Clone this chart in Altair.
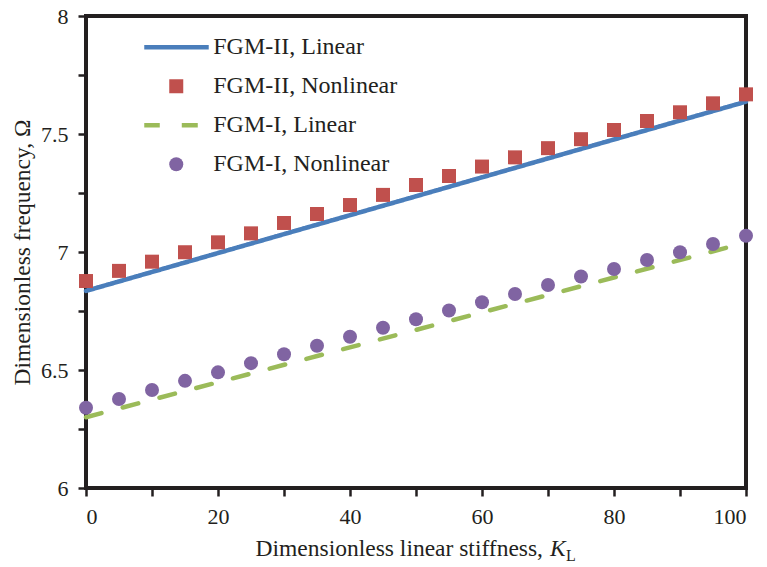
import altair as alt
import pandas as pd

# ---------------- data ----------------
K_POINTS = [0, 5, 10, 15, 20, 25, 30, 35, 40, 45, 50, 55, 60, 65, 70, 75, 80, 85, 90, 95, 100]
FGM2_NONLINEAR = [6.877, 6.920, 6.959, 6.999, 7.041, 7.079, 7.123, 7.161, 7.199, 7.242, 7.284,
                  7.322, 7.362, 7.401, 7.440, 7.478, 7.517, 7.555, 7.592, 7.630, 7.668]
FGM1_NONLINEAR = [6.340, 6.377, 6.415, 6.454, 6.490, 6.529, 6.567, 6.603, 6.641, 6.679, 6.715,
                  6.752, 6.787, 6.822, 6.860, 6.896, 6.928, 6.966, 6.999, 7.034, 7.069]
K_LINE = [0, 100]
FGM2_LINEAR = [6.835, 7.637]
FGM1_LINEAR = [6.300, 7.040]

SERIES = ["FGM-II, Linear", "FGM-II, Nonlinear", "FGM-I, Linear", "FGM-I, Nonlinear"]

X_TICKS = [0, 10, 20, 30, 40, 50, 60, 70, 80, 90, 100]
Y_TICKS = [6, 6.25, 6.5, 6.75, 7, 7.25, 7.5, 7.75, 8]

X_TITLE_MAIN = "Dimensionless linear stiffness,"
X_TITLE_K = "K"
X_TITLE_SUB = "L"
Y_TITLE = "Dimensionless frequency, Ω"

# ---------------- styles ----------------
BLUE = "#4a7ebb"
RED = "#c0504d"
GREEN = "#9bbb59"
PURPLE = "#8064a2"
INK = "#231f20"
FONT = "Liberation Serif"
LINE_PATH = "M-4.64,0H4.64"

lines_df = pd.DataFrame({
    "K": K_LINE * 2,
    "omega": FGM2_LINEAR + FGM1_LINEAR,
    "series": [SERIES[0]] * len(K_LINE) + [SERIES[2]] * len(K_LINE),
})
points_df = pd.DataFrame({
    "K": K_POINTS * 2,
    "omega": FGM2_NONLINEAR + FGM1_NONLINEAR,
    "series": [SERIES[1]] * len(K_POINTS) + [SERIES[3]] * len(K_POINTS),
})

legend_common = dict(
    title=None,
    orient="none",
    legendX=58.25,
    legendY=12.8,
    padding=0,
    labelFont=FONT,
    labelFontSize=24,
    labelColor=INK,
    labelLimit=400,
    labelOffset=25,
    symbolOffset=20,
    symbolSize=196,
    symbolStrokeWidth=4.5,
    symbolFillColor="transparent",
    symbolStrokeColor="transparent",
    clipHeight=37,
    rowPadding=2,
)

x_enc = alt.X(
    "K:Q",
    scale=alt.Scale(domain=[0, 100], nice=False, zero=False),
    axis=alt.Axis(
        values=X_TICKS,
        labelExpr="datum.value % 20 == 0 ? format(datum.value, 'd') : ''",
        title=None,
    ),
)
y_enc = alt.Y(
    "omega:Q",
    scale=alt.Scale(domain=[6, 8], nice=False, zero=False),
    axis=alt.Axis(
        values=Y_TICKS,
        labelExpr="(datum.value * 2) % 1 == 0 ? format(datum.value, '~g') : ''",
        title=Y_TITLE,
        titlePadding=6,
    ),
)

lines = alt.Chart(lines_df).mark_line(strokeWidth=4.5, strokeCap="round").encode(
    x=x_enc,
    y=y_enc,
    stroke=alt.Stroke(
        "series:N",
        scale=alt.Scale(domain=SERIES, range=[BLUE, "transparent", GREEN, "transparent"]),
        legend=alt.Legend(**legend_common),
    ),
    strokeDash=alt.StrokeDash(
        "series:N",
        scale=alt.Scale(domain=SERIES, range=[[1, 0], [1, 0], [16, 22], [1, 0]]),
        legend=alt.Legend(**legend_common),
    ),
    detail="series:N",
)

points = alt.Chart(points_df).mark_point(filled=True, opacity=1, size=196).encode(
    x=x_enc,
    y=y_enc,
    fill=alt.Fill(
        "series:N",
        scale=alt.Scale(domain=SERIES, range=["transparent", RED, "transparent", PURPLE]),
        legend=alt.Legend(**legend_common),
    ),
    shape=alt.Shape(
        "series:N",
        scale=alt.Scale(domain=SERIES, range=[LINE_PATH, "square", LINE_PATH, "circle"]),
        legend=alt.Legend(**legend_common),
    ),
)

title_main = alt.Chart(pd.DataFrame({"t": [X_TITLE_MAIN]})).mark_text(
    font=FONT, fontSize=23.5, color=INK, align="right", baseline="alphabetic"
).encode(x=alt.value(457), y=alt.value(540), text="t:N")

title_k = alt.Chart(pd.DataFrame({"t": [X_TITLE_K]})).mark_text(
    font=FONT, fontSize=23.5, fontStyle="italic", color=INK, align="left", baseline="alphabetic"
).encode(x=alt.value(464), y=alt.value(540), text="t:N")

title_sub = alt.Chart(pd.DataFrame({"t": [X_TITLE_SUB]})).mark_text(
    font=FONT, fontSize=16, color=INK, align="left", baseline="alphabetic"
).encode(x=alt.value(480), y=alt.value(545), text="t:N")

chart = alt.layer(lines, points, title_main, title_k, title_sub).properties(
    width=660,
    height=472,
    autosize=alt.AutoSizeParams(type="none"),
    padding={"left": 86, "top": 16, "right": 21, "bottom": 79},
    background="white",
).configure_view(
    stroke=INK, strokeWidth=4
).configure_axis(
    grid=False,
    domain=False,
    ticks=True,
    tickColor=INK,
    tickWidth=2.5,
    tickSize=8,
    labelFont=FONT,
    labelFontSize=22,
    labelColor=INK,
    labelPadding=10,
    titleFont=FONT,
    titleFontSize=23.5,
    titleFontWeight="normal",
    titleColor=INK,
)

chart.save("out.html", embed_options={"renderer": "svg", "actions": False})
